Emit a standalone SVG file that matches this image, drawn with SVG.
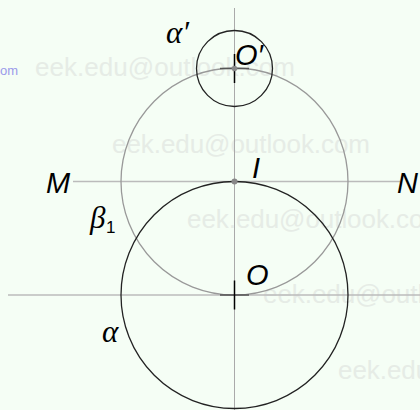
<svg xmlns="http://www.w3.org/2000/svg" width="420" height="410" viewBox="0 0 420 410">
<style>
.bg{fill:#f5fef5}
.wm{font-family:"Liberation Sans",Arial,sans-serif;font-size:26px;fill:#e6ece6}
.axis{stroke:#aaaaaa;stroke-width:1;fill:none}
.axis2{stroke:#bbbbbb;stroke-width:1.5;fill:none}
.gray{stroke:#999999;stroke-width:1.3;fill:none}
.blk{stroke:#222222;stroke-width:1.3;fill:none}
.lab{font-family:"Liberation Sans","DejaVu Sans",sans-serif;font-style:italic;font-size:29px;fill:#000}
.gr{font-family:"Liberation Serif","DejaVu Serif",serif;font-style:italic;font-size:31px;fill:#000}
.sub{font-family:"Liberation Sans","DejaVu Sans",sans-serif;font-size:17px;fill:#000}
</style>
<rect class="bg" x="0" y="0" width="420" height="410"/>
<g id="watermarks">
<text x="0" y="75" style="font-family:'Liberation Sans',Arial,sans-serif;font-size:13px;fill:#9a9aea">om</text>
<text class="wm" x="35" y="76" textLength="260">eek.edu@outlook.com</text>
<text class="wm" x="112" y="153" textLength="258">eek.edu@outlook.com</text>
<text class="wm" x="187" y="228" textLength="258">eek.edu@outlook.com</text>
<text class="wm" x="263" y="303" textLength="258">eek.edu@outlook.com</text>
<text class="wm" x="338" y="379" textLength="258">eek.edu@outlook.com</text>
</g>
<g id="connectors">
<line class="axis" x1="234.5" y1="8" x2="234.5" y2="410"/>
<line class="axis2" x1="73" y1="181.5" x2="400" y2="181.5"/>
<line class="axis2" x1="8" y1="295" x2="420" y2="295"/>
</g>
<g id="beta1">
<circle class="gray" cx="234.5" cy="181.5" r="113.5"/>
<text class="gr" x="90" y="228">β</text>
<text class="sub" x="106" y="233">1</text>
</g>
<g id="alpha">
<circle class="blk" cx="234.5" cy="295" r="113.5"/>
<text class="gr" x="102" y="342">α</text>
</g>
<g id="alphaPrime">
<circle class="blk" cx="234.5" cy="68.5" r="38"/>
<text class="gr" x="166" y="43">α′</text>
</g>
<g id="Oprime">
<line x1="220" y1="68.5" x2="249" y2="68.5" stroke="#555" stroke-width="1.5"/>
<line x1="234.5" y1="54" x2="234.5" y2="83" stroke="#000" stroke-width="1.5"/>
<circle cx="234.5" cy="68.5" r="2.8" fill="#888"/>
<text class="lab" x="235" y="65">O′</text>
</g>
<g id="I">
<circle cx="234.5" cy="181.5" r="3" fill="#888"/>
<text class="lab" x="252" y="178">I</text>
</g>
<g id="O">
<line x1="220" y1="295" x2="249" y2="295" stroke="#555" stroke-width="1.5"/>
<line x1="234.5" y1="280.5" x2="234.5" y2="309.5" stroke="#000" stroke-width="1.5"/>
<text class="lab" x="246" y="285">O</text>
</g>
<g id="M"><text class="lab" x="46" y="193">M</text></g>
<g id="N"><text class="lab" x="397" y="193">N</text></g>
</svg>
